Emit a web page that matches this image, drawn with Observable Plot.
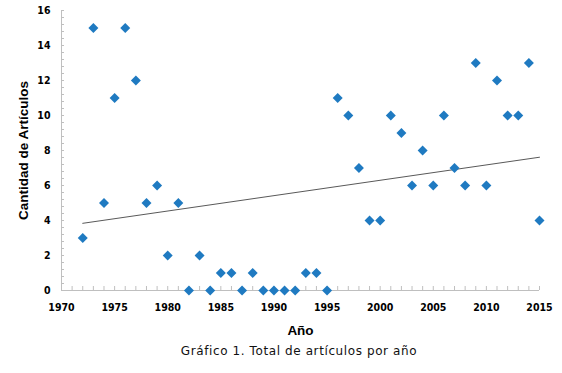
<!DOCTYPE html>
<html>
<head>
<meta charset="utf-8">
<script src="https://cdn.jsdelivr.net/npm/d3@7"></script>
<script src="https://cdn.jsdelivr.net/npm/@observablehq/plot@0.6"></script>
<style>
  html, body { margin: 0; padding: 0; background: #fff; }
  #wrap { position: relative; width: 562px; height: 373px; overflow: hidden; }
  #cap { position: absolute; top: 344px; left: 0; width: 598px; text-align: center;
         font-family: "DejaVu Sans", Verdana, sans-serif; font-size: 12px; letter-spacing: 0.6px; line-height: 15px; color: #111; }
</style>
</head>
<body>
<div id="wrap"><div id="chart"></div><div id="cap">Gráfico 1. Total de artículos por año</div></div>
<script>
const years = [1972,1973,1974,1975,1976,1977,1978,1979,1980,1981,1982,1983,1984,1985,1986,1987,1988,1989,1990,1991,1992,1993,1994,1995,1996,1997,1998,1999,2000,2001,2002,2003,2004,2005,2006,2007,2008,2009,2010,2011,2012,2013,2014,2015];
const counts = [3,15,5,11,15,12,5,6,2,5,0,2,0,1,1,0,1,0,0,0,0,1,1,0,11,10,7,4,4,10,9,6,8,6,10,7,6,13,6,12,10,10,13,4];
const xTickLabels = [1970,1975,1980,1985,1990,1995,2000,2005,2010,2015];
const yTickLabels = [0,2,4,6,8,10,12,14,16];
const xMinorTicks = d3.range(1970, 2016, 1);
const yMinorTicks = d3.range(0, 41).map(i => +(i * 0.4).toFixed(1));

const data = years.map((y, i) => ({year: y, n: counts[i]}));
const tickFont = "'DejaVu Sans Condensed', 'DejaVu Sans', Verdana, sans-serif";
const titleFont = "'Liberation Sans', Arial, sans-serif";
const axisColor = "#bfbfbf";

const chart = Plot.plot({
  width: 562,
  height: 338,
  marginLeft: 61,
  marginRight: 23,
  marginTop: 10,
  marginBottom: 48,
  style: {background: "#fff", overflow: "visible"},
  x: {domain: [1970, 2015], axis: null},
  y: {domain: [0, 16], axis: null},
  marks: [
    Plot.axisX(xTickLabels, {label: null, tickSize: 0, tickPadding: 13, tickFormat: d => String(d), fontSize: 10.5, fontWeight: "bold", fontFamily: tickFont, fill: "#000"}),
    Plot.axisY(yTickLabels, {label: null, tickSize: 0, tickPadding: 11, tickFormat: d => String(d), fontSize: 10.5, fontWeight: "bold", fontFamily: tickFont, fill: "#000"}),
    Plot.tickX(xMinorTicks, {x: d => d, insetTop: 276, stroke: axisColor}),
    Plot.tickY(yMinorTicks, {y: d => d, insetRight: 475, stroke: axisColor}),
    Plot.ruleY([0], {stroke: axisColor}),
    Plot.ruleX([1970], {stroke: axisColor}),
    Plot.linearRegressionY(data, {x: "year", y: "n", stroke: "#595959", strokeWidth: 1, ci: 0}),
    Plot.dot(data, {x: "year", y: "n", symbol: "diamond2", r: 4.5, fill: "#1f7ac1", stroke: "none"}),
    Plot.text(["Año"], {frameAnchor: "bottom", dy: 40, lineAnchor: "middle", textAnchor: "middle", text: d => d, fontSize: 13.5, fontWeight: "bold", fontFamily: titleFont, fill: "#000"}),
    Plot.text(["Cantidad de Artículos"], {frameAnchor: "left", dx: -38, rotate: -90, textAnchor: "middle", lineAnchor: "middle", text: d => d, fontSize: 13.5, fontWeight: "bold", fontFamily: titleFont, fill: "#000"})
  ]
});
document.getElementById("chart").appendChild(chart);
</script>
</body>
</html>
